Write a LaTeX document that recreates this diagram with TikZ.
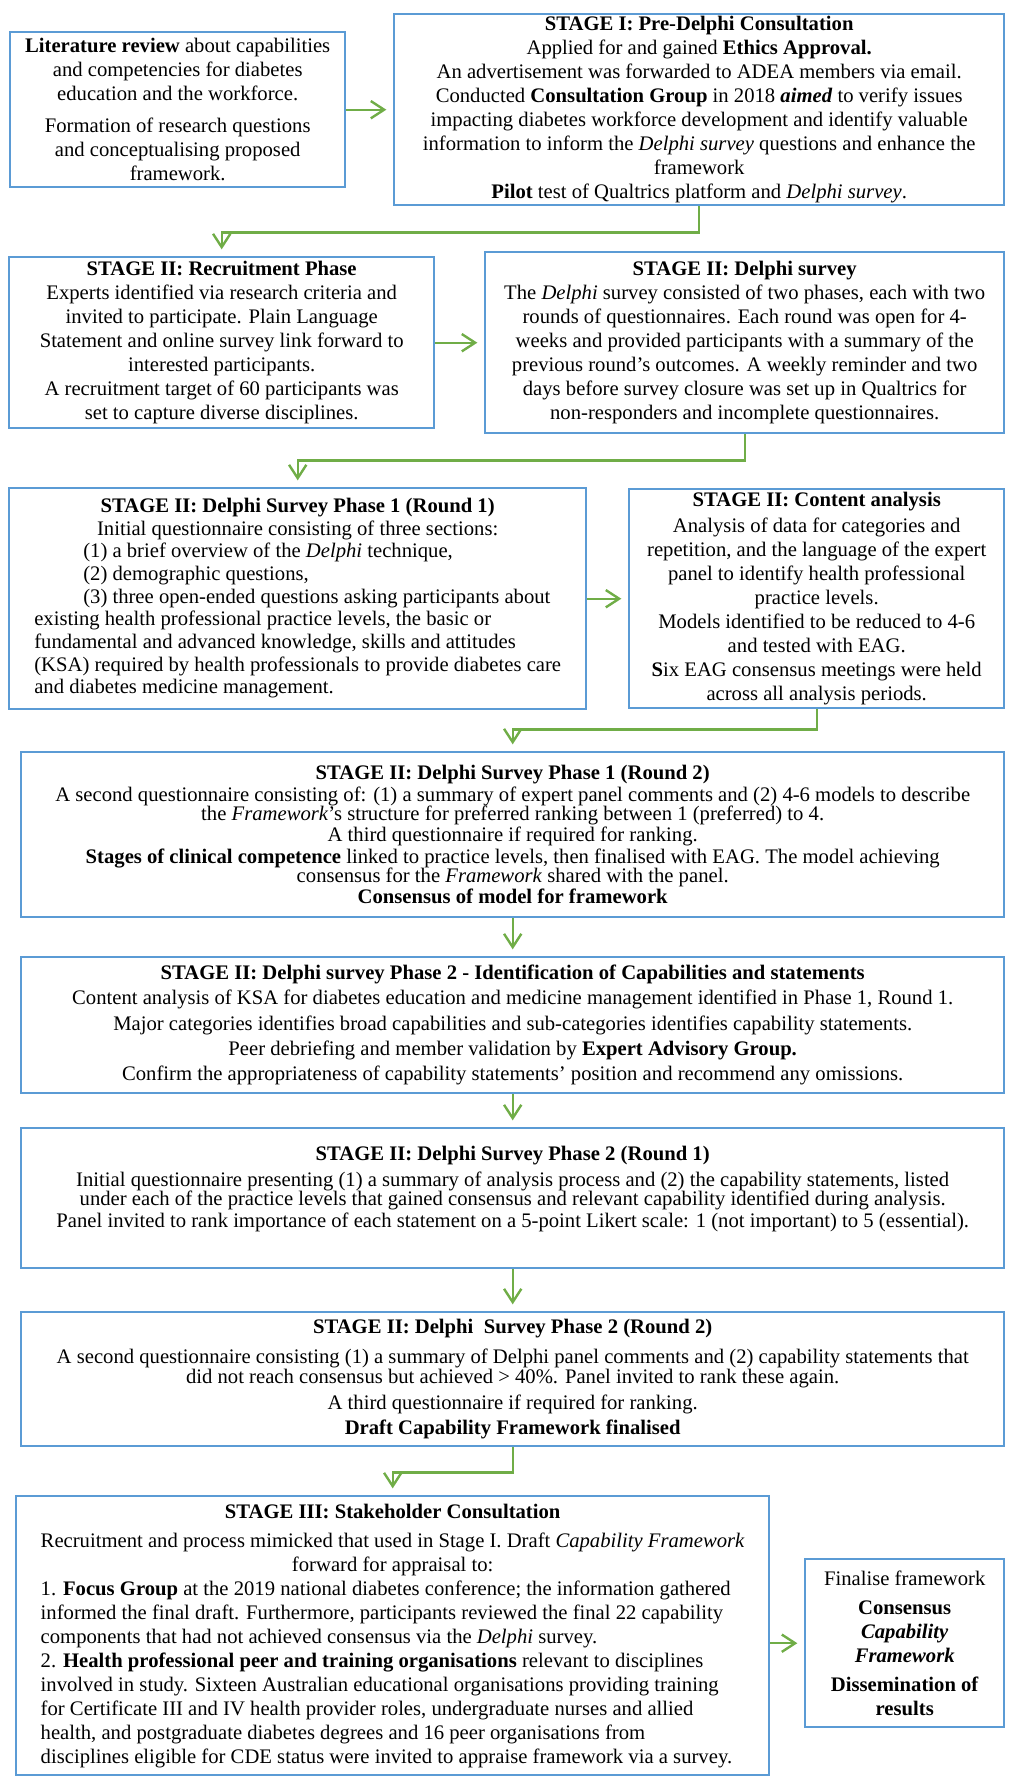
\documentclass[tikz,border=0pt]{standalone}
\usepackage{fontspec}
\setmainfont{Liberation Serif}
\usetikzlibrary{arrows.meta,calc}
\definecolor{boxblue}{HTML}{5B9BD5}
\definecolor{arrgreen}{HTML}{70AD47}
\newcommand\fntup{\fontsize{15.5}{18}\selectfont}
\newcommand\fntmid{\fontsize{15.5}{17}\selectfont}
\newcommand\fntlow{\fontsize{15.5}{14.5}\selectfont\lineskiplimit=-20pt\relax}
\begin{document}
\begin{tikzpicture}[x=0.75pt,y=-0.75pt,
  box/.style={draw=boxblue,line width=1.8pt,anchor=north west,inner xsep=2pt,inner ysep=0pt,font=\fntup},
  cbox/.style={box,align=center},
  lbox/.style={box,align=center,font=\fntlow},
  conn/.style={draw=arrgreen,line width=1.8pt,-{Straight Barb[length=10pt,width=13pt]},shorten >=5pt}]
\useasboundingbox (0,0) rectangle (1008,1778);

\node[cbox,minimum width=251.25pt,minimum height=116.25pt] (lit) at (9,31)
 {\textbf{Literature review} about capabilities\\and competencies for diabetes\\education and the workforce.\\[6pt]Formation of research questions\\and conceptualising proposed\\framework.};

\node[cbox,minimum width=457.5pt,minimum height=143.25pt] (st1) at (393,13)
 {\textbf{STAGE I: Pre-Delphi Consultation}\\Applied for and gained \textbf{Ethics Approval.}\\An advertisement was forwarded to ADEA members via email.\\Conducted \textbf{Consultation Group} in 2018 \textbf{\textit{aimed}} to verify issues\\impacting diabetes workforce development and identify valuable\\information to inform the \textit{Delphi survey} questions and enhance the\\framework\\\textbf{Pilot} test of Qualtrics platform and \textit{Delphi survey}.};

\node[cbox,minimum width=318.75pt,minimum height=128.25pt] (rec) at (8,256)
 {\textbf{STAGE II: Recruitment Phase}\\Experts identified via research criteria and\\invited to participate. Plain Language\\Statement and online survey link forward to\\interested participants.\\A recruitment target of 60 participants was\\set to capture diverse disciplines.};

\node[cbox,minimum width=389.25pt,minimum height=135.75pt] (del) at (484,251)
 {\textbf{STAGE II: Delphi survey}\\The \textit{Delphi} survey consisted of two phases, each with two\\rounds of questionnaires. Each round was open for 4-\\weeks and provided participants with a summary of the\\previous round's outcomes. A weekly reminder and two\\days before survey closure was set up in Qualtrics for\\non-responders and incomplete questionnaires.};

\node[box,font=\fntmid,minimum width=432.75pt,minimum height=165.75pt] (p1r1) at (8,487)
 {\begin{tabular}{@{}l@{}}
 \multicolumn{1}{@{}c@{}}{\textbf{STAGE II: Delphi Survey Phase 1 (Round 1)}}\\
 \multicolumn{1}{@{}c@{}}{Initial questionnaire consisting of three sections:}\\
 \hspace*{36.75pt}(1) a brief overview of the \textit{Delphi} technique,\\
 \hspace*{36.75pt}(2) demographic questions,\\
 \hspace*{36.75pt}(3) three open-ended questions asking participants about\\
 existing health professional practice levels, the basic or\\
 fundamental and advanced knowledge, skills and attitudes\\
 (KSA) required by health professionals to provide diabetes care\\
 and diabetes medicine management.
 \end{tabular}};

\node[cbox,minimum width=281.25pt,minimum height=164.25pt] (con) at (628,488)
 {\textbf{STAGE II: Content analysis}\\[2pt]Analysis of data for categories and\\repetition, and the language of the expert\\panel to identify health professional\\practice levels.\\Models identified to be reduced to 4-6\\and tested with EAG.\\\textbf{S}ix EAG consensus meetings were held\\across all analysis periods.};

\node[lbox,minimum width=737.25pt,minimum height=123.75pt] (p1r2) at (20,751)
 {\textbf{STAGE II: Delphi Survey Phase 1 (Round 2)}\\[1.5pt]A second questionnaire consisting of: (1) a summary of expert panel comments and (2) 4-6 models to describe\\the \textit{Framework}'s structure for preferred ranking between 1 (preferred) to 4.\\[1.5pt]A third questionnaire if required for ranking.\\[1.5pt]\textbf{Stages of clinical competence} linked to practice levels, then finalised with EAG. The model achieving\\consensus for the \textit{Framework} shared with the panel.\\[1.5pt]\textbf{Consensus of model for framework}};

\node[lbox,minimum width=737.25pt,minimum height=102pt] (p2) at (20,956)
 {\textbf{STAGE II: Delphi survey Phase 2 - Identification of Capabilities and statements}\\[4.5pt]Content analysis of KSA for diabetes education and medicine management identified in Phase 1, Round 1.\\[4.5pt]Major categories identifies broad capabilities and sub-categories identifies capability statements.\\[4.5pt]Peer debriefing and member validation by \textbf{Expert Advisory Group.}\\[4.5pt]Confirm the appropriateness of capability statements' position and recommend any omissions.};

\node[lbox,minimum width=737.25pt,minimum height=105pt] (p2r1) at (20,1127)
 {\textbf{STAGE II: Delphi Survey Phase 2 (Round 1)}\\[5pt]Initial questionnaire presenting (1) a summary of analysis process and (2) the capability statements, listed\\under each of the practice levels that gained consensus and relevant capability identified during analysis.\\[2pt]Panel invited to rank importance of each statement on a 5-point Likert scale: 1 (not important) to 5 (essential).\\[3pt]\mbox{}};

\node[lbox,minimum width=737.25pt,minimum height=100.5pt] (p2r2) at (20,1311)
 {\textbf{STAGE II: Delphi\ \ Survey Phase 2 (Round 2)}\\[8pt]A second questionnaire consisting (1) a summary of Delphi panel comments and (2) capability statements that\\did not reach consensus but achieved > 40\%. Panel invited to rank these again.\\[5.5pt]A third questionnaire if required for ranking.\\[4pt]\textbf{Draft Capability Framework finalised}};

\node[box,minimum width=564.75pt,minimum height=209.25pt] (st3) at (15,1495)
 {\begin{tabular}{@{}l@{}}
 \multicolumn{1}{@{}c@{}}{\textbf{STAGE III: Stakeholder Consultation}}\\[3.75pt]
 \multicolumn{1}{@{}c@{}}{Recruitment and process mimicked that used in Stage I. Draft \textit{Capability Framework}}\\
 \multicolumn{1}{@{}c@{}}{forward for appraisal to:}\\
 1. \textbf{Focus Group} at the 2019 national diabetes conference; the information gathered\\
 informed the final draft. Furthermore, participants reviewed the final 22 capability\\
 components that had not achieved consensus via the \textit{Delphi} survey.\\
 2. \textbf{Health professional peer and training organisations} relevant to disciplines\\
 involved in study. Sixteen Australian educational organisations providing training\\
 for Certificate III and IV health provider roles, undergraduate nurses and allied\\
 health, and postgraduate diabetes degrees and 16 peer organisations from\\
 disciplines eligible for CDE status were invited to appraise framework via a survey.
 \end{tabular}};

\node[cbox,minimum width=149.25pt,minimum height=126pt] (fin) at (804,1558)
 {Finalise framework\\[3.75pt]\textbf{Consensus}\\\textbf{\textit{Capability}}\\\textbf{\textit{Framework}}\\[3.75pt]\textbf{Dissemination of}\\\textbf{results}};

\draw[conn] (lit.east) -- (st1.west);
\draw[conn] (st1.south) -- ++(0,26) -| (rec.north);
\draw[conn] (rec.east) -- (del.west);
\draw[conn] (del.south) -- ++(0,26) -| (p1r1.north);
\draw[conn] (p1r1.east) -- (con.west);
\draw[conn] (con.south) -- ++(0,20) -| (p1r2.north);
\draw[conn] (p1r2.south) -- (p2.north);
\draw[conn] (p2.south) -- (p2r1.north);
\draw[conn] (p2r1.south) -- (p2r2.north);
\draw[conn] (p2r2.south) -- ++(0,25) -| (st3.north);
\draw[conn] (st3.east |- fin.west) -- (fin.west);
\end{tikzpicture}
\end{document}
